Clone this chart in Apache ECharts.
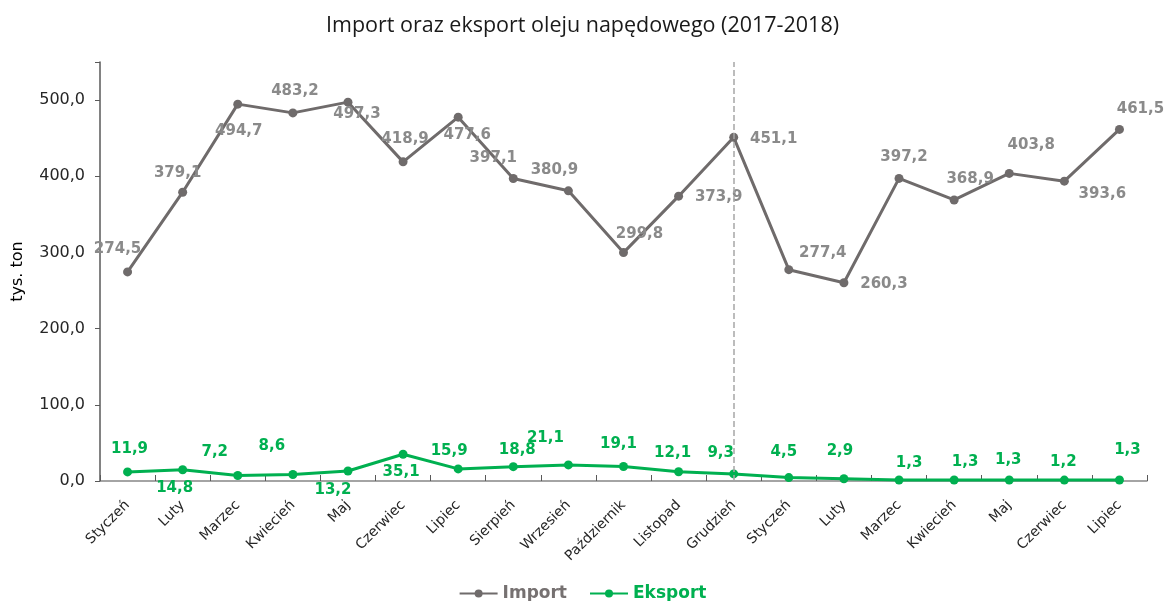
<!DOCTYPE html>
<html>
<head>
<meta charset="utf-8">
<script src="https://cdn.jsdelivr.net/npm/echarts@6/dist/echarts.min.js"></script>
<style>
  html, body { margin: 0; padding: 0; background: #fff; }
  #chart { width: 1165px; height: 601px; }
</style>
</head>
<body>
<div id="chart"></div>
<script>
// months 2017-01 .. 2018-07
const months = [
  "Styczeń", "Luty", "Marzec", "Kwiecień", "Maj", "Czerwiec", "Lipiec",
  "Sierpień", "Wrzesień", "Październik", "Listopad", "Grudzień",
  "Styczeń", "Luty", "Marzec", "Kwiecień", "Maj", "Czerwiec", "Lipiec"
];
const importValues = [274.5, 379.1, 494.7, 483.2, 497.3, 418.9, 477.6, 397.1, 380.9, 299.8,
  373.9, 451.1, 277.4, 260.3, 397.2, 368.9, 403.8, 393.6, 461.5];
const exportValues = [11.9, 14.8, 7.2, 8.6, 13.2, 35.1, 15.9, 18.8, 21.1, 19.1,
  12.1, 9.3, 4.5, 2.9, 1.3, 1.3, 1.3, 1.2, 1.3];
const yTicks = [0, 100, 200, 300, 400, 500];

// where each value label sits relative to its point (px)
const importLabelOffsets = [[-10, -23], [-5, -19], [1, 27], [2, -22], [9, 12], [2, -23], [9, 18],
  [-20, -20], [-14, -21], [16, -18], [40, 1], [40, 2], [34, -17], [40, 1], [5, -21], [16, -21],
  [22, -28], [38, 13], [21, -20]];
const exportLabelOffsets = [[2, -23], [-8, 18], [-23, -23], [-21, -28], [-15, 19], [-2, 18], [-9, -18],
  [4, -17], [-23, -27], [-5, -22], [-6, -19], [-13, -21], [-5, -25], [-4, -28], [10, -17], [11, -18],
  [-1, -20], [-1, -18], [8, -30]];

const fmt = v => v.toFixed(1).replace(".", ",");

const chart = echarts.init(document.getElementById("chart"));

const makeData = (values, offsets) =>
  values.map((v, i) => ({ value: v, label: { offset: offsets[i] } }));

const option = {
  animation: false,
  title: {
    text: "Import oraz eksport oleju napędowego (2017-2018)",
    left: "center",
    top: 10,
    textStyle: {
      fontFamily: "Open Sans",
      fontSize: 21.5,
      fontWeight: "normal",
      color: "#1a1a1a",
    },
  },
  legend: {
    top: 580,
    left: "center",
    itemWidth: 38,
    itemHeight: 10,
    itemGap: 22,
    textStyle: {
      fontFamily: "DejaVu Sans",
      fontSize: 17,
      fontWeight: "bold",
    },
    data: [
      { name: "Import", textStyle: { color: "#767171" } },
      { name: "Eksport", textStyle: { color: "#00b050" } },
    ],
  },
  grid: {
    left: 100,
    right: 18,
    top: 62,
    bottom: 120,
    outerBoundsMode: "none",
  },
  xAxis: {
    type: "category",
    data: months,
    boundaryGap: true,
    axisLine: { lineStyle: { color: "#868686", width: 1.5 } },
    axisTick: { show: true, inside: true, length: 6, lineStyle: { color: "#595959" } },
    axisLabel: {
      rotate: 45,
      interval: 0,
      margin: 22,
      fontFamily: "DejaVu Sans",
      fontSize: 14,
      color: "#262626",
    },
  },
  yAxis: {
    type: "value",
    min: 0,
    max: 550,
    interval: 100,
    name: "tys. ton",
    nameLocation: "middle",
    nameGap: 74,
    nameTextStyle: { fontFamily: "DejaVu Sans", fontSize: 16, color: "#000" },
    splitLine: { show: false },
    axisLine: { show: true, lineStyle: { color: "#595959", width: 1.5 } },
    axisTick: { show: true, length: 5, lineStyle: { color: "#595959" } },
    axisLabel: {
      fontFamily: "DejaVu Sans",
      fontSize: 16,
      color: "#262626",
      margin: 15,
      formatter: v => (yTicks.indexOf(v) >= 0 ? fmt(v) : ""),
    },
  },
  series: [
    {
      name: "Import",
      type: "line",
      data: makeData(importValues, importLabelOffsets),
      symbol: "circle",
      symbolSize: 9,
      lineStyle: { color: "#6f6b6b", width: 3 },
      itemStyle: { color: "#6f6b6b" },
      label: {
        show: true,
        position: "inside",
        fontFamily: "DejaVu Sans",
        fontSize: 15,
        fontWeight: "bold",
        color: "#8a8a8a",
        formatter: p => fmt(p.value),
      },
      markLine: {
        silent: true,
        symbol: "none",
        label: { show: false },
        lineStyle: { color: "#a6a6a6", type: "dashed", width: 1.5 },
        data: [{ xAxis: 11 }],
      },
      z: 3,
    },
    {
      name: "Eksport",
      type: "line",
      data: makeData(exportValues, exportLabelOffsets),
      symbol: "circle",
      symbolSize: 9,
      lineStyle: { color: "#00b050", width: 3 },
      itemStyle: { color: "#00b050" },
      label: {
        show: true,
        position: "inside",
        fontFamily: "DejaVu Sans",
        fontSize: 15,
        fontWeight: "bold",
        color: "#00b050",
        formatter: p => fmt(p.value),
      },
      z: 4,
    },
  ],
};

chart.setOption(option);
</script>
</body>
</html>
